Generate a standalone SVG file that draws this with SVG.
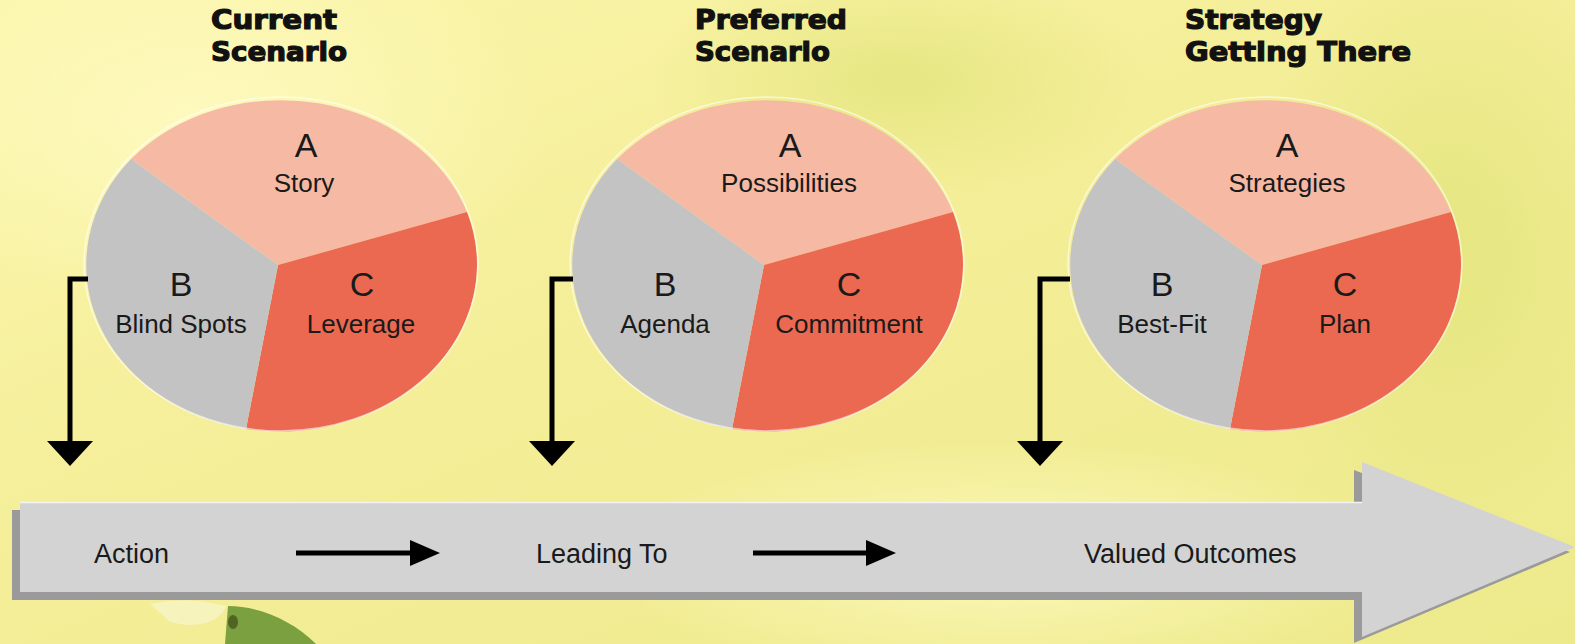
<svg xmlns="http://www.w3.org/2000/svg" width="1575" height="644" viewBox="0 0 1575 644">
  <defs>
    <linearGradient id="bg" x1="0" y1="0" x2="1" y2="1">
      <stop offset="0" stop-color="#FBF6AC"/>
      <stop offset="0.45" stop-color="#F4EE98"/>
      <stop offset="1" stop-color="#EDEA8C"/>
    </linearGradient>
    <radialGradient id="glow1" cx="0.5" cy="0.5" r="0.5">
      <stop offset="0" stop-color="#FFFBC4" stop-opacity="0.8"/>
      <stop offset="1" stop-color="#FFFBC4" stop-opacity="0"/>
    </radialGradient>
    <radialGradient id="green1" cx="0.5" cy="0.5" r="0.5">
      <stop offset="0" stop-color="#E2E47C" stop-opacity="0.8"/>
      <stop offset="1" stop-color="#E2E47C" stop-opacity="0"/>
    </radialGradient>
    <marker id="headDown" markerUnits="userSpaceOnUse" markerWidth="26" markerHeight="46" refX="1" refY="23" orient="auto" viewBox="0 0 26 46">
      <path d="M0,0 L25,23 L0,46 z" fill="#000"/>
    </marker>
    <marker id="headRight" markerUnits="userSpaceOnUse" markerWidth="31" markerHeight="26" refX="1" refY="13" orient="auto" viewBox="0 0 31 26">
      <path d="M0,0 L30,13 L0,26 z" fill="#000"/>
    </marker>
  </defs>
  <style>
    .title { font-family: "DejaVu Sans", "Liberation Sans", sans-serif; font-weight: bold; font-size: 26px; fill: #111; stroke: #111; stroke-width: 1.2; }
    .letter { font-family: "Liberation Sans", Arial, sans-serif; font-size: 34px; fill: #1a1a1a; text-anchor: middle; }
    .lbl { font-family: "Liberation Sans", Arial, sans-serif; font-size: 26px; fill: #1a1a1a; text-anchor: middle; }
    .bar { font-family: "Liberation Sans", Arial, sans-serif; font-size: 27px; fill: #1a1a1a; }
    .sa { fill: #F6B9A3; }
    .sb { fill: #C3C3C3; }
    .sc { fill: #EB6950; }
    .rim { fill: none; stroke: #ffffff; stroke-opacity: 0.6; stroke-width: 1.5; }
    .conn { fill: none; stroke: #000; stroke-width: 5; }
  </style>

  <!-- background -->
  <rect x="0" y="0" width="1575" height="644" fill="url(#bg)"/>
  <ellipse cx="200" cy="120" rx="350" ry="200" fill="url(#glow1)"/>
  <ellipse cx="1000" cy="560" rx="400" ry="120" fill="url(#glow1)"/>
  <ellipse cx="1450" cy="250" rx="200" ry="300" fill="url(#green1)"/>
  <ellipse cx="900" cy="80" rx="250" ry="120" fill="url(#green1)"/>
  <path d="M150,604 C175,598 205,600 226,606 C222,620 200,630 170,622 Z" fill="#F6F4C6" opacity="0.8"/>
  <path d="M225,644 L228,606 C258,606 292,620 316,644 Z" fill="#7BA03F"/>
  <ellipse cx="233" cy="622" rx="5" ry="7" fill="#3E4A1A" opacity="0.7"/>

  <!-- titles -->
  <g id="title-current">
    <text class="title" x="211" y="29" textLength="126" lengthAdjust="spacingAndGlyphs">Current</text>
    <text class="title" x="211" y="61" textLength="136" lengthAdjust="spacingAndGlyphs">Scenario</text>
  </g>
  <g id="title-preferred">
    <text class="title" x="695" y="29" textLength="152" lengthAdjust="spacingAndGlyphs">Preferred</text>
    <text class="title" x="695" y="61" textLength="135" lengthAdjust="spacingAndGlyphs">Scenario</text>
  </g>
  <g id="title-strategy">
    <text class="title" x="1185" y="29" textLength="137" lengthAdjust="spacingAndGlyphs">Strategy</text>
    <text class="title" x="1185" y="61" textLength="226" lengthAdjust="spacingAndGlyphs">Getting There</text>
  </g>

  <!-- pie 1 -->
  <g id="pie-current">
    <path class="sa" d="M278,265 L131,159 A197,167 0 0 1 467,212 Z"/>
    <path class="sc" d="M278,265 L467,212 A197,167 0 0 1 246,429 Z"/>
    <path class="sb" d="M278,265 L246,429 A197,167 0 0 1 131,159 Z"/>
    <ellipse class="rim" cx="281" cy="264" rx="197" ry="167"/>
    <text class="letter" x="306" y="157">A</text>
    <text class="lbl" x="304" y="192">Story</text>
    <text class="letter" x="181" y="296">B</text>
    <text class="lbl" x="181" y="333">Blind Spots</text>
    <text class="letter" x="362" y="296">C</text>
    <text class="lbl" x="361" y="333">Leverage</text>
  </g>

  <!-- pie 2 -->
  <g id="pie-preferred">
    <path class="sa" d="M764,265 L617,159 A197,167 0 0 1 953,212 Z"/>
    <path class="sc" d="M764,265 L953,212 A197,167 0 0 1 732,429 Z"/>
    <path class="sb" d="M764,265 L732,429 A197,167 0 0 1 617,159 Z"/>
    <ellipse class="rim" cx="767" cy="264" rx="197" ry="167"/>
    <text class="letter" x="790" y="157">A</text>
    <text class="lbl" x="789" y="192">Possibilities</text>
    <text class="letter" x="665" y="296">B</text>
    <text class="lbl" x="665" y="333">Agenda</text>
    <text class="letter" x="849" y="296">C</text>
    <text class="lbl" x="849" y="333">Commitment</text>
  </g>

  <!-- pie 3 -->
  <g id="pie-strategy">
    <path class="sa" d="M1262,265 L1115,159 A197,167 0 0 1 1451,212 Z"/>
    <path class="sc" d="M1262,265 L1451,212 A197,167 0 0 1 1230,429 Z"/>
    <path class="sb" d="M1262,265 L1230,429 A197,167 0 0 1 1115,159 Z"/>
    <ellipse class="rim" cx="1265" cy="264" rx="197" ry="167"/>
    <text class="letter" x="1287" y="157">A</text>
    <text class="lbl" x="1287" y="192">Strategies</text>
    <text class="letter" x="1162" y="296">B</text>
    <text class="lbl" x="1162" y="333">Best-Fit</text>
    <text class="letter" x="1345" y="296">C</text>
    <text class="lbl" x="1345" y="333">Plan</text>
  </g>

  <!-- timeline arrow -->
  <g id="timeline">
    <polygon points="12,510 1354,510 1354,470 1570,552 1354,643 1354,600 12,600" fill="#9A9A9A"/>
    <polygon points="20,502 1362,502 1362,462 1575,547 1362,637 1362,592 20,592" fill="#D3D3D3"/>
    <line x1="20" y1="502.5" x2="1362" y2="502.5" stroke="#F2F2F2" stroke-width="1.5"/>
    <text class="bar" x="94" y="563">Action</text>
    <text class="bar" x="536" y="563">Leading To</text>
    <text class="bar" x="1084" y="563">Valued Outcomes</text>
  </g>

  <!-- connectors -->
  <g id="connectors">
    <path class="conn" d="M88,279 L70,279 L70,442" marker-end="url(#headDown)"/>
    <path class="conn" d="M573,279 L552,279 L552,442" marker-end="url(#headDown)"/>
    <path class="conn" d="M1070,279 L1040,279 L1040,442" marker-end="url(#headDown)"/>
    <line class="conn" x1="296" y1="553" x2="411" y2="553" marker-end="url(#headRight)"/>
    <line class="conn" x1="753" y1="553" x2="867" y2="553" marker-end="url(#headRight)"/>
  </g>
</svg>
